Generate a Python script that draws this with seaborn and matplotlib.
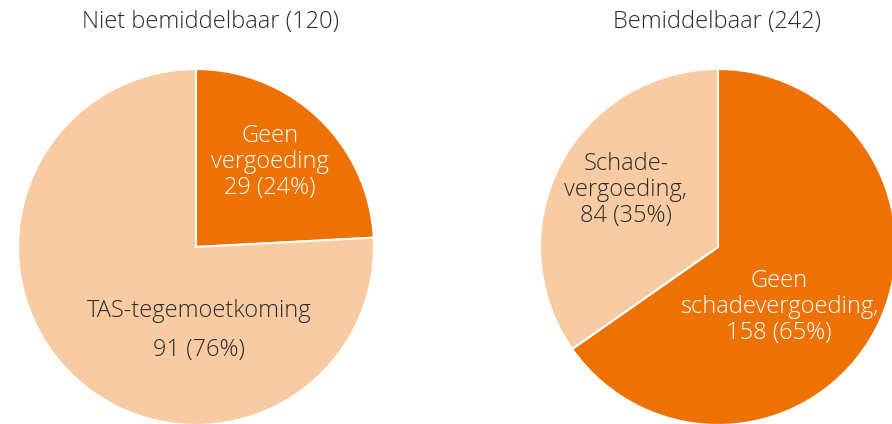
import matplotlib.pyplot as plt
import seaborn as sns

sns.set_theme(style="white")
plt.rcParams['font.family'] = ['Open Sans', 'DejaVu Sans']

left_title = "Niet bemiddelbaar (120)"
left_values = [29, 91]
right_title = "Bemiddelbaar (242)"
right_values = [158, 84]

dark = "#EE7203"
light = "#F9CBA2"
text_dark = "#2b2b2b"

fig = plt.figure(figsize=(8.92, 4.24), dpi=100)

# pies placed so they bleed off the bottom/right like the original
ax1 = fig.add_axes([18 / 892, -1 / 424, 356 / 892, 356 / 424])
ax2 = fig.add_axes([540 / 892, -1 / 424, 356 / 892, 356 / 424])

for ax, vals in [(ax1, left_values), (ax2, right_values)]:
    ax.pie(vals, colors=[dark, light], startangle=90, counterclock=False,
           radius=1, wedgeprops=dict(edgecolor="white", linewidth=1.5))
    ax.set_xlim(-1, 1)
    ax.set_ylim(-1, 1)
    ax.set_aspect("equal")
    ax.axis("off")

fs = 17
kw = dict(ha="center", va="center", fontsize=fs, fontweight="light", linespacing=1.1)

ax1.text(0.415, 0.478, f"Geen\nvergoeding\n{left_values[0]} (24%)", color="white", **kw)
ax1.text(0.017, -0.36, "TAS-tegemoetkoming", color=text_dark, **kw)
ax1.text(0.017, -0.58, f"{left_values[1]} (76%)", color=text_dark, **kw)

ax2.text(-0.517, 0.32, f"Schade-\nvergoeding,\n{right_values[1]} (35%)", color=text_dark, **kw)
ax2.text(0.343, -0.337, f"Geen\nschadevergoeding,\n{right_values[0]} (65%)", color="white", **kw)

fig.text(211 / 892, 1 - 22 / 424, left_title, ha="center", va="center",
         fontsize=fs, fontweight="light", color=text_dark)
fig.text(717 / 892, 1 - 22 / 424, right_title, ha="center", va="center",
         fontsize=fs, fontweight="light", color=text_dark)

fig.savefig("out.png", dpi=100)
